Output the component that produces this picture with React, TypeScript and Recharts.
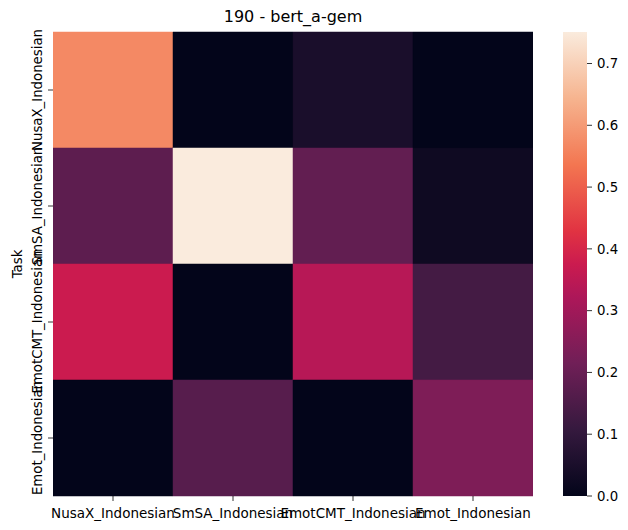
import React from "react";
import { BarChart, Bar, XAxis, YAxis, Cell, Label } from "recharts";

const tasks = ["NusaX_Indonesian", "SmSA_Indonesian", "EmotCMT_Indonesian", "Emot_Indonesian"];
const columns = ["NusaX_Indonesian", "SmSA_Indonesian", "EmotCMT_Indonesian", "Emot_Indonesian"];
const rowNusaX = [0.57, 0.0, 0.05, 0.0];
const rowSmSA = [0.18, 0.751, 0.19, 0.025];
const rowEmotCMT = [0.375, 0.0, 0.34, 0.135];
const rowEmot = [0.0, 0.17, 0.0, 0.24];
const matrix = [rowNusaX, rowSmSA, rowEmotCMT, rowEmot];
const colorbarTicks = [0, 0.1, 0.2, 0.3, 0.4, 0.5, 0.6, 0.7];
const title = "190 - bert_a-gem";
const yLabel = "Task";

const vmin = 0;
const vmax = Math.max(...matrix.flat());

// rocket colormap anchors
const rocketStops: [number, string][] = [
  [0, "#03051a"],
  [1 / 7, "#35193e"],
  [2 / 7, "#701f57"],
  [3 / 7, "#ad1759"],
  [0.5, "#cb1b4f"],
  [4 / 7, "#e13342"],
  [5 / 7, "#f37651"],
  [6 / 7, "#f6b48f"],
  [1, "#faebdd"],
];

function hexToRgb(h: string) {
  const n = parseInt(h.slice(1), 16);
  return [(n >> 16) & 255, (n >> 8) & 255, n & 255];
}

function rocket(t: number) {
  const x = Math.max(0, Math.min(1, t));
  for (let i = 0; i < rocketStops.length - 1; i++) {
    const [t0, c0] = rocketStops[i];
    const [t1, c1] = rocketStops[i + 1];
    if (x >= t0 && x <= t1) {
      const f = (x - t0) / (t1 - t0);
      const a = hexToRgb(c0);
      const b = hexToRgb(c1);
      const c = a.map((v, k) => Math.round(v + (b[k] - v) * f));
      return `rgb(${c[0]},${c[1]},${c[2]})`;
    }
  }
  return rocketStops[rocketStops.length - 1][1];
}

const norm = (v: number) => (v - vmin) / (vmax - vmin);

const heatData = tasks.map((task, i) => {
  const row: any = { task };
  columns.forEach((_, j) => {
    row[`c${j}`] = 1;
    row[`v${j}`] = matrix[i][j];
  });
  return row;
});

const colorbarData = [{ k: "cb", v: vmax }];

const FONT = "'DejaVu Sans', sans-serif";

const YTick = (props: any) => {
  const { x, y, payload } = props;
  return (
    <text
      x={x}
      y={y}
      transform={`rotate(-90, ${x}, ${y})`}
      textAnchor="middle"
      fontSize={13.3}
      fill="#000"
      fontFamily={FONT}
    >
      {payload.value}
    </text>
  );
};

export default function App() {
  return (
    <div style={{ position: "absolute", left: 0, top: 0, width: 628, height: 530, background: "#fff", fontFamily: FONT }}>
      <div
        style={{
          position: "absolute",
          left: 53,
          width: 480,
          top: 7,
          textAlign: "center",
          fontSize: 16,
          color: "#000",
          fontFamily: FONT,
        }}
      >
        {title}
      </div>
      <div style={{ position: "absolute", left: 0, top: 0 }}>
        <BarChart
          width={628}
          height={530}
          data={heatData}
          layout="vertical"
          margin={{ top: 32, right: 95, bottom: 0, left: 0 }}
          barCategoryGap={0}
          barGap={0}
        >
          <XAxis
            type="number"
            domain={[0, columns.length]}
            ticks={columns.map((_, j) => j + 0.5)}
            tickFormatter={(v: number) => columns[Math.floor(v)]}
            interval={0}
            height={34}
            axisLine={false}
            tickLine={{ stroke: "#000", strokeWidth: 0.8 }}
            tickSize={5}
            tickMargin={7}
            tick={{ fontSize: 13.5, fill: "#000", fontFamily: FONT }}
            allowDataOverflow
          />
          <YAxis
            type="category"
            dataKey="task"
            width={53}
            interval={0}
            axisLine={false}
            tickLine={{ stroke: "#000", strokeWidth: 0.8 }}
            tickSize={5}
            tickMargin={6}
            tick={<YTick />}
          >
            <Label
              value={yLabel}
              angle={-90}
              position="insideLeft"
              offset={17}
              style={{ fontSize: 13.3, fill: "#000", fontFamily: FONT, textAnchor: "middle" }}
            />
          </YAxis>
          {columns.map((_, j) => (
            <Bar key={j} dataKey={`c${j}`} stackId="s" isAnimationActive={false}>
              {heatData.map((r, i) => (
                <Cell key={i} fill={rocket(norm(r[`v${j}`]))} stroke={rocket(norm(r[`v${j}`]))} strokeWidth={0.5} />
              ))}
            </Bar>
          ))}
        </BarChart>
      </div>
      <div style={{ position: "absolute", left: 0, top: 0 }}>
        <BarChart
          width={628}
          height={530}
          data={colorbarData}
          margin={{ top: 32, right: 0, bottom: 34, left: 563 }}
          barCategoryGap={0}
        >
          <defs>
            <linearGradient id="rocketGrad" x1="0" y1="1" x2="0" y2="0">
              {rocketStops.map(([t, c], i) => (
                <stop key={i} offset={`${t * 100}%`} stopColor={c} />
              ))}
            </linearGradient>
          </defs>
          <XAxis dataKey="k" hide />
          <YAxis
            type="number"
            orientation="right"
            domain={[vmin, vmax]}
            ticks={colorbarTicks}
            width={41}
            axisLine={false}
            tickLine={{ stroke: "#000", strokeWidth: 0.8 }}
            tickSize={5}
            tickMargin={5}
            tickFormatter={(v: number) => v.toFixed(1)}
            tick={{ fontSize: 13.3, fill: "#000", fontFamily: FONT }}
            allowDataOverflow
          />
          <Bar dataKey="v" fill="url(#rocketGrad)" isAnimationActive={false} />
        </BarChart>
      </div>
    </div>
  );
}
